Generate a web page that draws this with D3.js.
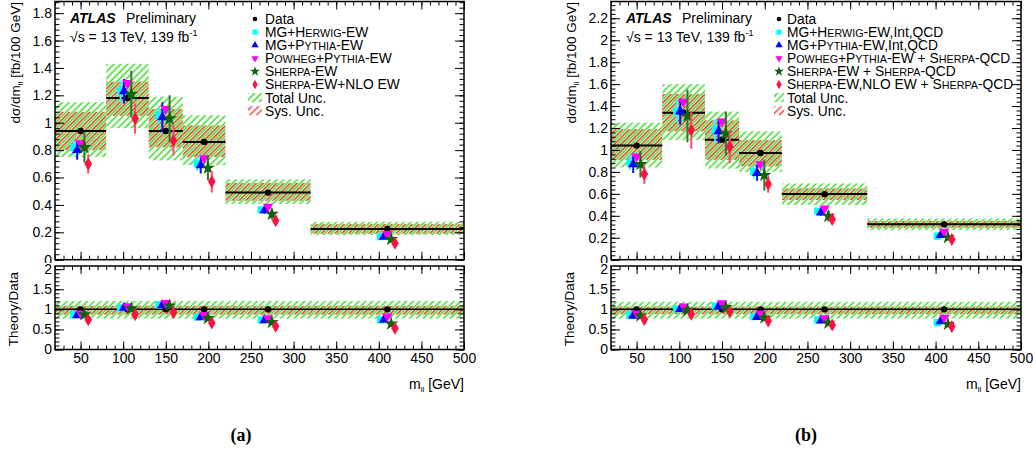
<!DOCTYPE html>
<html lang="en">
<head>
    <meta charset='utf-8'>
    <title>m_ll differential cross-section</title>
    <script src="https://cdn.jsdelivr.net/npm/d3@7"></script>
    <style>
        body { margin: 0; background: #fff; }
    </style>
</head>
<body>
<script>
    // bins in m_ll [GeV]
    const binEdges = [20, 80, 130, 170, 220, 320, 500]
    const binCenters = [50, 105, 150, 195, 270, 410]

    // panel (a): EW only
    const dataA = [0.94, 1.18, 0.94, 0.86, 0.49, 0.224]
    const totUpA = [1.15, 1.43, 1.19, 1.055, 0.587, 0.277]
    const totDnA = [0.75, 0.96, 0.725, 0.69, 0.407, 0.18]
    const sysUpA = [1.08, 1.30, 1.10, 0.98, 0.56, 0.26]
    const sysDnA = [0.80, 1.05, 0.82, 0.75, 0.43, 0.19]
    const mgHerwigA = [0.82, 1.23, 1.05, 0.70, 0.363, 0.168]
    const mgHerwigErrA = [0.06, 0.08, 0.06, 0.05, 0.02, 0.01]
    const mgPythiaA = [0.80, 1.23, 1.04, 0.69, 0.36, 0.168]
    const mgPythiaErrA = [0.07, 0.09, 0.11, 0.06, 0.025, 0.012]
    const powhegA = [0.85, 1.29, 1.10, 0.74, 0.387, 0.188]
    const powhegErrA = [0.02, 0.02, 0.02, 0.02, 0.01, 0.005]
    const sherpaA = [0.82, 1.21, 1.03, 0.67, 0.333, 0.149]
    const sherpaErrA = [0.11, 0.17, 0.17, 0.09, 0.04, 0.015]
    const sherpaNloA = [0.70, 1.03, 0.87, 0.57, 0.285, 0.12]
    const sherpaNloErrA = [0.07, 0.11, 0.11, 0.08, 0.03, 0.012]
    // ratio theory/data (a)
    const mgHerwigRatioA = [0.87, 1.04, 1.12, 0.81, 0.74, 0.74]
    const mgPythiaRatioA = [0.85, 1.04, 1.11, 0.80, 0.73, 0.74]
    const powhegRatioA = [0.90, 1.08, 1.16, 0.86, 0.78, 0.82]
    const sherpaRatioA = [0.87, 1.02, 1.09, 0.78, 0.68, 0.64]
    const sherpaNloRatioA = [0.74, 0.87, 0.92, 0.66, 0.58, 0.53]
    const ratioTotA = [0.77, 1.21]
    const ratioSysA = [0.87, 1.09]

    // panel (b): EW + Int + QCD
    const dataB = [1.04, 1.34, 1.093, 0.972, 0.598, 0.322]
    const totUpB = [1.25, 1.60, 1.35, 1.17, 0.695, 0.376]
    const totDnB = [0.84, 1.09, 0.83, 0.80, 0.498, 0.27]
    const sysUpB = [1.19, 1.51, 1.27, 1.09, 0.65, 0.355]
    const sysDnB = [0.91, 1.17, 0.91, 0.85, 0.543, 0.29]
    const mgHerwigB = [0.89, 1.35, 1.18, 0.80, 0.443, 0.215]
    const mgHerwigErrB = [0.07, 0.10, 0.10, 0.06, 0.025, 0.012]
    const mgPythiaB = [0.87, 1.35, 1.17, 0.79, 0.43, 0.224]
    const mgPythiaErrB = [0.08, 0.12, 0.11, 0.07, 0.03, 0.014]
    const powhegB = [0.94, 1.44, 1.26, 0.87, 0.467, 0.254]
    const powhegErrB = [0.02, 0.03, 0.03, 0.02, 0.01, 0.006]
    const sherpaB = [0.87, 1.31, 1.15, 0.77, 0.397, 0.203]
    const sherpaErrB = [0.12, 0.24, 0.20, 0.14, 0.05, 0.02]
    const sherpaNloB = [0.78, 1.18, 1.03, 0.69, 0.367, 0.185]
    const sherpaNloErrB = [0.09, 0.17, 0.15, 0.08, 0.03, 0.015]
    const mgHerwigRatioB = [0.86, 1.01, 1.08, 0.82, 0.74, 0.67]
    const mgPythiaRatioB = [0.84, 1.01, 1.07, 0.81, 0.72, 0.70]
    const powhegRatioB = [0.90, 1.07, 1.15, 0.90, 0.78, 0.79]
    const sherpaRatioB = [0.84, 0.98, 1.05, 0.79, 0.66, 0.63]
    const sherpaNloRatioB = [0.75, 0.88, 0.94, 0.71, 0.61, 0.57]
    const ratioTotB = [0.77, 1.19]
    const ratioSysB = [0.88, 1.07]

    const legendA = ["Data", "MG+{Herwig}-EW", "MG+{Pythia}-EW", "{Powheg}+{Pythia}-EW",
        "{Sherpa}-EW", "{Sherpa}-EW+NLO EW", "Total Unc.", "Sys. Unc."]
    const legendB = ["Data", "MG+{Herwig}-EW,Int,QCD", "MG+{Pythia}-EW,Int,QCD",
        "{Powheg}+{Pythia}-EW + {Sherpa}-QCD", "{Sherpa}-EW + {Sherpa}-QCD",
        "{Sherpa}-EW,NLO EW + {Sherpa}-QCD", "Total Unc.", "Sys. Unc."]

    const width = 1033
    const height = 452
    const font = "'Liberation Sans', Arial, sans-serif"

    const svg = d3.select("body").append("svg")
        .attr("width", width)
        .attr("height", height)
        .attr("font-family", font)

    const defs = svg.append("defs")
    const hatch = (id, color, offset, w) => {
        const p = defs.append("pattern")
            .attr("id", id)
            .attr("patternUnits", "userSpaceOnUse")
            .attr("width", 4.8).attr("height", 4.8)
            .attr("patternTransform", "rotate(45)")
        p.append("line")
            .attr("x1", offset).attr("x2", offset)
            .attr("y1", 0).attr("y2", 4.8)
            .attr("stroke", color).attr("stroke-width", w)
    }
    hatch("hGreen", "#45dc33", 1.2, 1.6)
    hatch("hRed", "#cf4418", 3.6, 1.6)
    hatch("hRedLeg", "#ff3b3b", 3.6, 1.4)

    // marker styles for the five predictions
    const styles = [
        {type: d3.symbolSquare, size: 52, color: "#00ffff", bar: "#30f4ff", rot: 0},
        {type: d3.symbolTriangle, size: 46, color: "#0000ff", bar: "#1010ff", rot: 0},
        {type: d3.symbolTriangle, size: 46, color: "#ff00ff", bar: "#ff30ff", rot: 180},
        {type: d3.symbolStar, size: 62, color: "#0a650a", bar: "#2a7a2a", rot: 0},
        {type: d3.symbolDiamond, size: 50, color: "#ff1040", bar: "#ff4a6a", rot: 0}
    ]
    const xOffsets = [-8, -4, 0, 4.5, 9]

    const addRich = (sel, label, size) => {
        const parts = label.match(/\{[^}]+\}|[^{]+/g)
        parts.forEach(part => {
            if (part.startsWith("{")) {
                const word = part.slice(1, -1)
                sel.append("tspan").text(word[0])
                sel.append("tspan").attr("font-size", size * 0.78).text(word.slice(1).toUpperCase())
            } else {
                sel.append("tspan").attr("font-size", size).text(part)
            }
        })
    }

    const styleAxis = g => {
        g.select(".domain").remove()
        g.selectAll("line").attr("stroke", "#000").attr("stroke-width", 1)
        g.attr("font-family", font).attr("font-size", 14)
        g.selectAll("text").attr("fill", "#000")
    }

    function drawPanel(p, idx) {
        const g = svg.append("g")
        const top = 1.5, bottom = 259.7, rTop = 266, rBottom = 349.5

        const x = d3.scaleLinear().domain([20, 500]).range([p.left, p.right])
        const y = d3.scaleLinear().domain([0, p.yMax]).range([bottom, top])
        const yr = d3.scaleLinear().domain([0, 2.08]).range([rBottom, rTop])

        defs.append("clipPath").attr("id", "cu" + idx)
            .append("rect").attr("x", p.left).attr("y", top)
            .attr("width", p.right - p.left).attr("height", bottom - top)
        defs.append("clipPath").attr("id", "cl" + idx)
            .append("rect").attr("x", p.left).attr("y", rTop)
            .attr("width", p.right - p.left).attr("height", rBottom - rTop)

        const bins = d3.range(binCenters.length)

        // ---- upper pad
        const up = g.append("g").attr("clip-path", `url(#cu${idx})`)
        up.selectAll(".tot").data(bins).join("rect")
            .attr("x", i => x(binEdges[i]))
            .attr("width", i => x(binEdges[i + 1]) - x(binEdges[i]))
            .attr("y", i => y(p.totUp[i]))
            .attr("height", i => y(p.totDn[i]) - y(p.totUp[i]))
            .attr("fill", "url(#hGreen)")
        up.selectAll(".sys").data(bins).join("rect")
            .attr("x", i => x(binEdges[i]))
            .attr("width", i => x(binEdges[i + 1]) - x(binEdges[i]))
            .attr("y", i => y(p.sysUp[i]))
            .attr("height", i => y(p.sysDn[i]) - y(p.sysUp[i]))
            .attr("fill", "url(#hRed)")
        up.selectAll(".dl").data(bins).join("line")
            .attr("x1", i => x(binEdges[i])).attr("x2", i => x(binEdges[i + 1]))
            .attr("y1", i => y(p.data[i])).attr("y2", i => y(p.data[i]))
            .attr("stroke", "#000").attr("stroke-width", 2)
        up.selectAll(".dp").data(bins).join("circle")
            .attr("cx", i => x(binCenters[i])).attr("cy", i => y(p.data[i]))
            .attr("r", 3.2).attr("fill", "#000")

        p.theory.forEach((s, k) => {
            const st = styles[k]
            const xs = i => x(binCenters[i] + xOffsets[k])
            up.append("g").selectAll("line").data(bins).join("line")
                .attr("x1", xs).attr("x2", xs)
                .attr("y1", i => y(s.val[i] - s.err[i]))
                .attr("y2", i => y(s.val[i] + s.err[i]))
                .attr("stroke", st.bar).attr("stroke-width", 2)
            up.append("g").selectAll("path").data(bins).join("path")
                .attr("d", d3.symbol(st.type, st.size))
                .attr("transform", i => `translate(${xs(i)},${y(s.val[i])}) rotate(${st.rot})`)
                .attr("fill", st.color)
        })

        g.append("rect").attr("x", p.left).attr("y", top)
            .attr("width", p.right - p.left).attr("height", bottom - top)
            .attr("fill", "none").attr("stroke", "#000").attr("stroke-width", 1.5)

        const yMaj = d3.range(0, 12).map(i => i * 0.2).filter(v => v <= p.yMax)
        const yMin = d3.range(0, 60).map(i => i * 0.04).filter(v => v <= p.yMax)
        const xMaj = d3.range(1, 11).map(i => i * 50)
        const xMin = d3.range(2, 51).map(i => i * 10)
        const fmt = d3.format("~g")

        g.append("g").attr("transform", `translate(${p.left},0)`)
            .call(d3.axisLeft(y).tickValues(yMaj).tickSize(-9).tickPadding(3).tickFormat(fmt)).call(styleAxis)
        g.append("g").attr("transform", `translate(${p.left},0)`)
            .call(d3.axisLeft(y).tickValues(yMin).tickSize(-4.5).tickFormat("")).call(styleAxis)
        g.append("g").attr("transform", `translate(${p.right},0)`)
            .call(d3.axisRight(y).tickValues(yMaj).tickSize(-9).tickFormat("")).call(styleAxis)
        g.append("g").attr("transform", `translate(${p.right},0)`)
            .call(d3.axisRight(y).tickValues(yMin).tickSize(-4.5).tickFormat("")).call(styleAxis)
        g.append("g").attr("transform", `translate(0,${bottom})`)
            .call(d3.axisBottom(x).tickValues(xMaj).tickSize(-8).tickFormat("")).call(styleAxis)
        g.append("g").attr("transform", `translate(0,${bottom})`)
            .call(d3.axisBottom(x).tickValues(xMin).tickSize(-4).tickFormat("")).call(styleAxis)
        g.append("g").attr("transform", `translate(0,${top})`)
            .call(d3.axisTop(x).tickValues(xMaj).tickSize(-8).tickFormat("")).call(styleAxis)
        g.append("g").attr("transform", `translate(0,${top})`)
            .call(d3.axisTop(x).tickValues(xMin).tickSize(-4).tickFormat("")).call(styleAxis)

        // ---- ratio pad (white pad background hides the lower half of the upper "0")
        g.append("rect").attr("x", p.left - 50).attr("y", 263)
            .attr("width", p.right - p.left + 60).attr("height", 90)
            .attr("fill", "#fff")
        const lo = g.append("g").attr("clip-path", `url(#cl${idx})`)
        lo.append("rect").attr("x", x(20)).attr("width", x(500) - x(20))
            .attr("y", yr(p.rTot[1])).attr("height", yr(p.rTot[0]) - yr(p.rTot[1]))
            .attr("fill", "url(#hGreen)")
        lo.append("rect").attr("x", x(20)).attr("width", x(500) - x(20))
            .attr("y", yr(p.rSys[1])).attr("height", yr(p.rSys[0]) - yr(p.rSys[1]))
            .attr("fill", "url(#hRed)")
        lo.append("line").attr("x1", x(20)).attr("x2", x(500))
            .attr("y1", yr(1)).attr("y2", yr(1))
            .attr("stroke", "#000").attr("stroke-width", 1.5)
        lo.selectAll(".rd").data(bins).join("circle")
            .attr("cx", i => x(binCenters[i])).attr("cy", yr(1))
            .attr("r", 3.2).attr("fill", "#000")
        p.theory.forEach((s, k) => {
            const st = styles[k]
            lo.append("g").selectAll("path").data(bins).join("path")
                .attr("d", d3.symbol(st.type, st.size))
                .attr("transform", i => `translate(${x(binCenters[i] + xOffsets[k])},${yr(s.ratio[i])}) rotate(${st.rot})`)
                .attr("fill", st.color)
        })

        g.append("rect").attr("x", p.left).attr("y", rTop)
            .attr("width", p.right - p.left).attr("height", rBottom - rTop)
            .attr("fill", "none").attr("stroke", "#000").attr("stroke-width", 1.5)

        const rMaj = [0, 0.5, 1, 1.5, 2]
        const rMin = d3.range(0, 21).map(i => i * 0.1)
        g.append("g").attr("transform", `translate(${p.left},0)`)
            .call(d3.axisLeft(yr).tickValues(rMaj).tickSize(-9).tickPadding(3).tickFormat(fmt)).call(styleAxis)
        g.append("g").attr("transform", `translate(${p.left},0)`)
            .call(d3.axisLeft(yr).tickValues(rMin).tickSize(-4.5).tickFormat("")).call(styleAxis)
        g.append("g").attr("transform", `translate(${p.right},0)`)
            .call(d3.axisRight(yr).tickValues(rMaj).tickSize(-9).tickFormat("")).call(styleAxis)
        g.append("g").attr("transform", `translate(${p.right},0)`)
            .call(d3.axisRight(yr).tickValues(rMin).tickSize(-4.5).tickFormat("")).call(styleAxis)
        g.append("g").attr("transform", `translate(0,${rBottom})`)
            .call(d3.axisBottom(x).tickValues(xMaj).tickSize(-8).tickPadding(4).tickFormat(fmt)).call(styleAxis)
        g.append("g").attr("transform", `translate(0,${rBottom})`)
            .call(d3.axisBottom(x).tickValues(xMin).tickSize(-4).tickFormat("")).call(styleAxis)
        g.append("g").attr("transform", `translate(0,${rTop})`)
            .call(d3.axisTop(x).tickValues(xMaj).tickSize(-8).tickFormat("")).call(styleAxis)
        g.append("g").attr("transform", `translate(0,${rTop})`)
            .call(d3.axisTop(x).tickValues(xMin).tickSize(-4).tickFormat("")).call(styleAxis)

        // ---- titles
        const yt = g.append("text")
            .attr("transform", `translate(${p.left - 35},2) rotate(-90)`)
            .attr("text-anchor", "end").attr("font-size", 13.5)
        yt.append("tspan").text("dσ/dm")
        yt.append("tspan").attr("font-size", 8).attr("dy", 3).text("ll")
        yt.append("tspan").attr("dy", -3).text(" [fb/100 GeV]")

        g.append("text")
            .attr("transform", `translate(${p.left - 37},${rTop + 6}) rotate(-90)`)
            .attr("text-anchor", "end").attr("font-size", 13.5)
            .text("Theory/Data")

        const xt = g.append("text")
            .attr("x", p.right).attr("y", 389)
            .attr("text-anchor", "end").attr("font-size", 14)
        xt.append("tspan").text("m")
        xt.append("tspan").attr("font-size", 8).attr("dy", 3).text("ll")
        xt.append("tspan").attr("dy", -3).text(" [GeV]")

        g.append("text")
            .attr("x", p.left + 15).attr("y", 23)
            .attr("font-size", 14).attr("font-weight", "bold").attr("font-style", "italic")
            .text("ATLAS")
        g.append("text")
            .attr("x", p.left + 71).attr("y", 23)
            .attr("font-size", 14)
            .text("Preliminary")
        const sq = g.append("text")
            .attr("x", p.left + 15).attr("y", 42)
            .attr("font-size", 14)
        sq.append("tspan").text("√s = 13 TeV, 139 fb")
        sq.append("tspan").attr("font-size", 9).attr("dy", -6).text("-1")

        // ---- legend
        const leg = g.append("g")
        p.legend.forEach((label, i) => {
            const cy = 19 + i * 13.1
            const t = leg.append("text")
                .attr("x", p.legX + p.legGap).attr("y", cy)
                .attr("dy", "0.36em").attr("font-size", 13.8)
            addRich(t, label, 13.8)
            if (i === 0) {
                leg.append("circle").attr("cx", p.legX).attr("cy", cy).attr("r", 2.3).attr("fill", "#000")
            } else if (i <= 5) {
                const st = styles[i - 1]
                leg.append("path")
                    .attr("d", d3.symbol(st.type, st.size * 0.5))
                    .attr("transform", `translate(${p.legX},${cy}) rotate(${st.rot})`)
                    .attr("fill", st.color)
            } else {
                leg.append("rect")
                    .attr("x", p.legX - p.swatch / 2).attr("y", cy - 4.5)
                    .attr("width", p.swatch).attr("height", 9)
                    .attr("fill", i === 6 ? "url(#hGreen)" : "url(#hRedLeg)")
            }
        })

        svg.append("text")
            .attr("x", p.tagX).attr("y", 441)
            .attr("text-anchor", "middle")
            .attr("font-family", "'Liberation Serif', 'Times New Roman', serif")
            .attr("font-weight", "bold").attr("font-size", 18)
            .text(p.tag)
    }

    const series = (vals, errs, ratios) => vals.map((v, i) => ({val: v, err: errs[i], ratio: ratios[i]}))

    drawPanel({
        left: 55, right: 464, yMax: 1.885,
        data: dataA, totUp: totUpA, totDn: totDnA, sysUp: sysUpA, sysDn: sysDnA,
        theory: series(
            [mgHerwigA, mgPythiaA, powhegA, sherpaA, sherpaNloA],
            [mgHerwigErrA, mgPythiaErrA, powhegErrA, sherpaErrA, sherpaNloErrA],
            [mgHerwigRatioA, mgPythiaRatioA, powhegRatioA, sherpaRatioA, sherpaNloRatioA]),
        rTot: ratioTotA, rSys: ratioSysA,
        legend: legendA, legX: 255, legGap: 10, swatch: 14,
        tag: "(a)", tagX: 241
    }, 0)

    drawPanel({
        left: 611, right: 1021, yMax: 2.353,
        data: dataB, totUp: totUpB, totDn: totDnB, sysUp: sysUpB, sysDn: sysDnB,
        theory: series(
            [mgHerwigB, mgPythiaB, powhegB, sherpaB, sherpaNloB],
            [mgHerwigErrB, mgPythiaErrB, powhegErrB, sherpaErrB, sherpaNloErrB],
            [mgHerwigRatioB, mgPythiaRatioB, powhegRatioB, sherpaRatioB, sherpaNloRatioB]),
        rTot: ratioTotB, rSys: ratioSysB,
        legend: legendB, legX: 779, legGap: 8, swatch: 10,
        tag: "(b)", tagX: 806
    }, 1)
</script>
</body>
</html>
